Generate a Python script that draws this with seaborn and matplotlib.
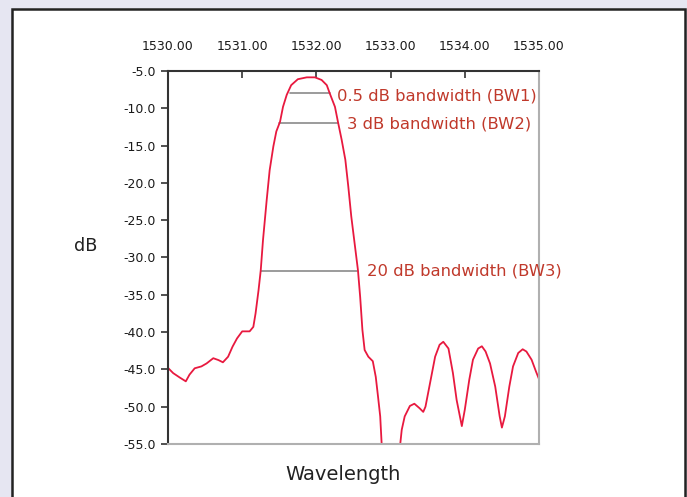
import matplotlib
matplotlib.use("Agg")
import matplotlib.pyplot as plt
import seaborn as sns
import numpy as np
import pandas as pd
from matplotlib.patches import Rectangle

# ---- data ----
wavelength = [1530.00, 1530.07, 1530.16, 1530.24, 1530.29, 1530.36, 1530.45, 1530.52,
              1530.61, 1530.68, 1530.74, 1530.81, 1530.87, 1530.93, 1531.00, 1531.10,
              1531.15, 1531.18, 1531.22, 1531.25, 1531.28, 1531.33, 1531.37, 1531.42,
              1531.46, 1531.51, 1531.55, 1531.60, 1531.66, 1531.75, 1531.87, 1531.98,
              1532.07, 1532.14, 1532.18, 1532.25, 1532.29, 1532.34, 1532.39, 1532.43,
              1532.47, 1532.52, 1532.56, 1532.59, 1532.62, 1532.65, 1532.70, 1532.76,
              1532.80, 1532.83, 1532.86, 1532.88, 1532.95, 1533.05, 1533.13, 1533.15,
              1533.19, 1533.26, 1533.32, 1533.39, 1533.44, 1533.47, 1533.54, 1533.60,
              1533.66, 1533.71, 1533.78, 1533.84, 1533.89, 1533.96, 1534.00, 1534.06,
              1534.11, 1534.18, 1534.23, 1534.28, 1534.34, 1534.41, 1534.47, 1534.50,
              1534.54, 1534.60, 1534.65, 1534.72, 1534.78, 1534.83, 1534.90, 1534.96,
              1535.00]
power_db = [-44.8, -45.5, -46.1, -46.6, -45.7, -44.85, -44.6, -44.2,
            -43.5, -43.75, -44.05, -43.3, -41.95, -40.85, -39.9, -39.9,
            -39.3, -37.5, -34.4, -31.7, -27.7, -22.3, -18.3, -15.1,
            -13.1, -11.8, -9.8, -8.2, -6.9, -6.1, -5.85, -5.85,
            -6.2, -6.9, -8.0, -9.8, -11.8, -14.2, -16.9, -20.5,
            -24.5, -28.5, -31.7, -35.3, -39.7, -42.4, -43.3, -43.9,
            -46.0, -48.6, -51.3, -55.1, -58.0, -58.0, -55.0, -53.1,
            -51.3, -49.9, -49.6, -50.2, -50.7, -50.0, -46.4, -43.3,
            -41.7, -41.3, -42.2, -45.5, -49.1, -52.6, -50.4, -46.4,
            -43.7, -42.2, -41.9, -42.6, -44.2, -47.3, -51.3, -52.8,
            -51.3, -47.3, -44.6, -42.8, -42.3, -42.6, -43.7, -45.3,
            -46.3]

bw_labels = ["0.5 dB bandwidth (BW1)", "3 dB bandwidth (BW2)", "20 dB bandwidth (BW3)"]
bw_level = [-8.0, -12.0, -31.8]
bw_start = [1531.64, 1531.50, 1531.25]
bw_end = [1532.18, 1532.29, 1532.55]

x_ticks = [1530.0, 1531.0, 1532.0, 1533.0, 1534.0, 1535.0]
y_ticks = [-5.0, -10.0, -15.0, -20.0, -25.0, -30.0, -35.0, -40.0, -45.0, -50.0, -55.0]

df = pd.DataFrame({"Wavelength": wavelength, "dB": power_db})

sns.set_style("white")
plt.rcParams["font.family"] = ["DejaVu Sans"]

W, H = 687, 497
fig = plt.figure(figsize=(W / 100, H / 100), dpi=100)
fig.patch.set_facecolor("#e6e6f2")

# white panel with border
panel = Rectangle((12 / W, -0.05), (685 - 12) / W, 1.05 - 9 / H,
                  transform=fig.transFigure, facecolor="white",
                  edgecolor="#222222", linewidth=1.8, zorder=-10)
fig.patches.append(panel)

ax = fig.add_axes([168 / W, 1 - 444 / H, (539 - 168) / W, (444 - 71) / H])
ax.set_facecolor("white")

sns.lineplot(data=df, x="Wavelength", y="dB", ax=ax, color="#e8193f",
             linewidth=1.3, sort=False, estimator=None)

for lab, lv, s, e in zip(bw_labels, bw_level, bw_start, bw_end):
    ax.plot([s, e], [lv, lv], color="#8a8a8a", linewidth=1.2, zorder=1)

ax.text(1532.28, bw_level[0] - 0.3, bw_labels[0], color="#c0392b", fontsize=11.8,
        va="center", ha="left")
ax.text(1532.41, bw_level[1] - 0.1, bw_labels[1], color="#c0392b", fontsize=11.8,
        va="center", ha="left")
ax.text(1532.68, bw_level[2], bw_labels[2], color="#c0392b", fontsize=11.8,
        va="center", ha="left")

ax.set_xlim(1530.0, 1535.0)
ax.set_ylim(-55.0, -5.0)
ax.xaxis.tick_top()
ax.set_xticks(x_ticks)
ax.set_xticklabels([f"{v:.2f}" for v in x_ticks])
ax.set_yticks(y_ticks)
ax.set_yticklabels([f"{v:.1f}" for v in y_ticks])
ax.tick_params(axis="x", direction="in", length=5, width=1.2, color="#333333",
               labelsize=9, labelcolor="#1a1a1a", pad=13, top=True, bottom=False)
ax.tick_params(axis="y", direction="out", length=5, width=1.2, color="#333333",
               labelsize=9, labelcolor="#1a1a1a", pad=4, left=True)

for side in ["left", "top"]:
    ax.spines[side].set_color("#333333")
    ax.spines[side].set_linewidth(1.5)
for side in ["right", "bottom"]:
    ax.spines[side].set_color("#b0b0b0")
    ax.spines[side].set_linewidth(1.5)

ax.set_xlabel("")
ax.set_ylabel("")
fig.text(343 / W, 1 - 475 / H, "Wavelength", fontsize=14, ha="center", va="center",
         color="#222222")
fig.text(86 / W, 1 - 246 / H, "dB", fontsize=12.7, ha="center", va="center",
         color="#222222")

fig.savefig("out.png", dpi=100)
